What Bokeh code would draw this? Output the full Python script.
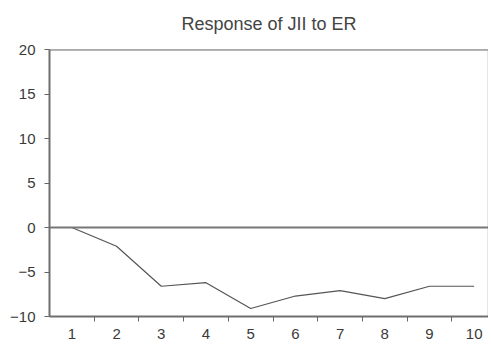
from bokeh.plotting import figure
from bokeh.models import FixedTicker, Span, Range1d
from bokeh.embed import file_html
from bokeh.resources import INLINE

periods = [1, 2, 3, 4, 5, 6, 7, 8, 9, 10]
response = [0.0, -2.1, -6.6, -6.2, -9.1, -7.7, -7.1, -8.0, -6.6, -6.6]
y_ticks = [-10, -5, 0, 5, 10, 15, 20]
x_minor = [1.5, 2.5, 3.5, 4.5, 5.5, 6.5, 7.5, 8.5, 9.5]
title_text = "Response of JII to ER"

p = figure(frame_width=439, frame_height=267, output_backend="svg", toolbar_location=None,
           x_range=Range1d(0.5, 10.32), y_range=Range1d(-10, 20),
           min_border=0, min_border_top=42, min_border_left=49, title=title_text)
p.title.align = "center"
p.title.vertical_align = "top"
p.title.text_font = "Liberation Sans"
p.title.text_font_size = "18px"
p.title.text_font_style = "normal"
p.title.text_color = "#444444"
p.title.offset = 0
p.title.standoff = 27

p.grid.visible = False
p.outline_line_color = "#e6e6e6"
p.outline_line_width = 1

# x axis
p.xaxis.ticker = FixedTicker(ticks=periods, minor_ticks=x_minor)
p.xaxis.major_tick_line_color = None
p.xaxis.major_tick_out = 0
p.xaxis.major_tick_in = 0
p.xaxis.minor_tick_out = 5
p.xaxis.minor_tick_in = 0
p.xaxis.minor_tick_line_color = "#666666"
p.xaxis.major_label_standoff = 7
p.xaxis.major_label_text_line_height = 1.0
# y axis
p.yaxis.ticker = FixedTicker(ticks=y_ticks, minor_ticks=[])
p.yaxis.major_tick_out = 5
p.yaxis.major_tick_in = 0
p.yaxis.major_tick_line_color = "#666666"
p.yaxis.major_label_standoff = 9
for ax in (p.xaxis[0], p.yaxis[0]):
    ax.axis_line_color = "#6e6e6e"
    ax.axis_line_width = 2
    ax.major_label_text_font = "Liberation Sans"
    ax.major_label_text_font_size = "15px"
    ax.major_label_text_color = "#3a3a3a"

p.add_layout(Span(location=20, dimension="width", line_color="#6e6e6e", line_width=2))
p.add_layout(Span(location=0, dimension="width", line_color="#777777", line_width=2))

p.line(periods, response, line_color="#555555", line_width=1.2)

open("out.html", "w").write(file_html(p, INLINE))
